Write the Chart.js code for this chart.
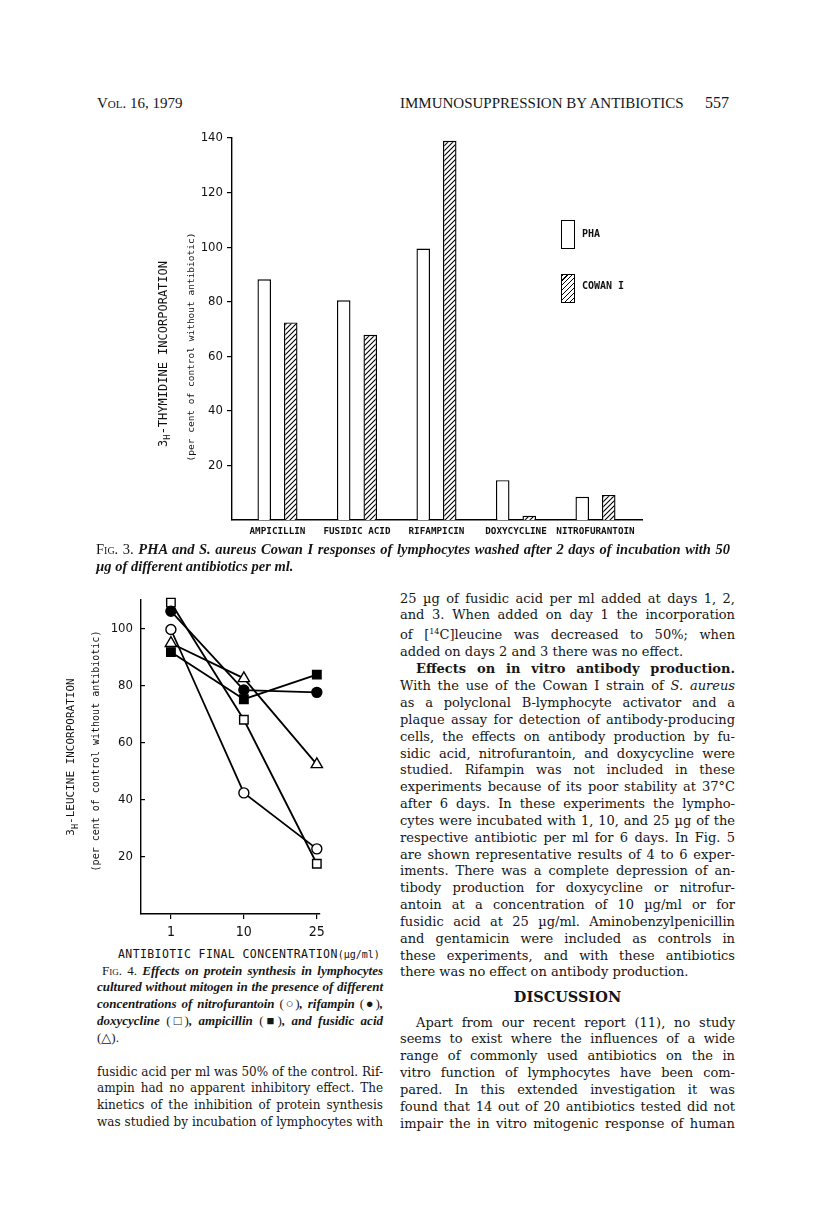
<!DOCTYPE html>
<html>
<head>
<meta charset="utf-8">
<script src="https://cdn.jsdelivr.net/npm/chart.js"></script>
<style>
  body { margin: 0; background: #fff; }
  #page { position: relative; width: 816px; height: 1222px; overflow: hidden; color: #161616; }
  .abs { position: absolute; }
  .serif { font-family: "Liberation Serif", "DejaVu Serif", serif; }
  .body { font-family: "DejaVu Serif", "Liberation Serif", serif; }
  .col div { white-space: nowrap; text-align: justify; text-align-last: justify; }
  .col div.e { text-align-last: left; }
  .rot { position: absolute; transform: translate(-50%, -50%) rotate(-90deg); white-space: nowrap;
         font-family: "DejaVu Sans Mono", monospace; color: #111; }
  .sw { position: absolute; width: 12px; height: 27px; border: 1.3px solid #000; background: #fff; }
  .hatch { background: repeating-linear-gradient(-45deg, #fff 0 2.3px, #000 2.3px 3.5px); }
  .leg { position: absolute; font: bold 10px "DejaVu Sans Mono", monospace; color: #111; }
  .sc { font-variant: small-caps; font-style: normal; font-weight: normal; }
  .cap { font-style: italic; font-weight: bold; }
  .up { font-style: normal; font-weight: normal; }
</style>
</head>
<body>
<div id="page">

  <div class="abs serif" style="left:97px;top:95px;font-size:15px;"><span class="sc">Vol.</span> 16, 1979</div>
  <div class="abs serif" style="left:400px;top:95px;font-size:15px;">IMMUNOSUPPRESSION BY ANTIBIOTICS</div>
  <div class="abs serif" style="left:705px;top:94px;font-size:16px;">557</div>

  <!-- Fig. 3 -->
  <canvas id="fig3" width="500" height="430" style="position:absolute;left:150px;top:120px;"></canvas>
  <div class="rot" style="left:164px;top:354px;font-size:12px;">3<sub style="font-size:9px">H</sub>-THYMIDINE INCORPORATION</div>
  <div class="rot" style="left:190px;top:347px;font-size:9.5px;">(per cent of control without antibiotic)</div>
  <div class="sw" style="left:561px;top:220px;"></div>
  <div class="leg" style="left:582px;top:228px;">PHA</div>
  <div class="sw hatch" style="left:561px;top:274px;"></div>
  <div class="leg" style="left:582px;top:280px;">COWAN I</div>

  <div class="abs serif col" style="left:96px;top:541px;width:634px;font-size:14.5px;line-height:17px;">
    <div><span class="sc">Fig.</span> 3. <span class="cap">PHA and S. aureus Cowan I responses of lymphocytes washed after 2 days of incubation with 50</span></div>
    <div class="e cap">µg of different antibiotics per ml.</div>
  </div>

  <!-- Fig. 4 -->
  <canvas id="fig4" width="280" height="364" style="position:absolute;left:50px;top:580px;"></canvas>
  <div class="rot" style="left:72px;top:757px;font-size:11px;">3<sub style="font-size:8.5px">H</sub>-LEUCINE INCORPORATION</div>
  <div class="rot" style="left:95px;top:751px;font-size:10px;">(per cent of control without antibiotic)</div>
  <div class="abs" style="left:118px;top:947px;font-family:'DejaVu Sans Mono',monospace;font-size:11.5px;letter-spacing:0.4px;color:#111;">ANTIBIOTIC FINAL CONCENTRATION<span style="font-size:10px;letter-spacing:0">(µg/ml)</span></div>

  <div class="abs serif col" style="left:97px;top:962.6px;width:286px;font-size:13px;line-height:16.8px;">
    <div style="padding-left:5px"><span class="sc">Fig.</span> 4. <span class="cap">Effects on protein synthesis in lymphocytes</span></div>
    <div class="cap">cultured without mitogen in the presence of different</div>
    <div class="cap">concentrations of nitrofurantoin <span class="up">(○)</span>, rifampin <span class="up">(●)</span>,</div>
    <div class="cap">doxycycline <span class="up">(□)</span>, ampicillin <span class="up">(■)</span>, and fusidic acid</div>
    <div class="e"><span class="up">(△)</span>.</div>
  </div>

  <div class="abs body col" style="left:97px;top:1063.6px;width:286px;font-size:12px;line-height:16.8px;">
    <div>fusidic acid per ml was 50% of the control. Rif-</div>
    <div>ampin had no apparent inhibitory effect. The</div>
    <div>kinetics of the inhibition of protein synthesis</div>
    <div>was studied by incubation of lymphocytes with</div>
  </div>

  <!-- right column -->
  <div class="abs body col" style="left:400px;top:590.6px;width:335px;font-size:13px;line-height:16.85px;">
    <div>25 µg of fusidic acid per ml added at days 1, 2,</div>
    <div>and 3. When added on day 1 the incorporation</div>
    <div>of [<sup style="font-size:8px">14</sup>C]leucine was decreased to 50%; when</div>
    <div class="e">added on days 2 and 3 there was no effect.</div>
    <div style="padding-left:16px;font-weight:bold;">Effects on in vitro antibody production.</div>
    <div>With the use of the Cowan I strain of <i>S. aureus</i></div>
    <div>as a polyclonal B-lymphocyte activator and a</div>
    <div>plaque assay for detection of antibody-producing</div>
    <div>cells, the effects on antibody production by fu-</div>
    <div>sidic acid, nitrofurantoin, and doxycycline were</div>
    <div>studied. Rifampin was not included in these</div>
    <div>experiments because of its poor stability at 37°C</div>
    <div>after 6 days. In these experiments the lympho-</div>
    <div>cytes were incubated with 1, 10, and 25 µg of the</div>
    <div>respective antibiotic per ml for 6 days. In Fig. 5</div>
    <div>are shown representative results of 4 to 6 exper-</div>
    <div>iments. There was a complete depression of an-</div>
    <div>tibody production for doxycycline or nitrofur-</div>
    <div>antoin at a concentration of 10 µg/ml or for</div>
    <div>fusidic acid at 25 µg/ml. Aminobenzylpenicillin</div>
    <div>and gentamicin were included as controls in</div>
    <div>these experiments, and with these antibiotics</div>
    <div class="e">there was no effect on antibody production.</div>
  </div>
  <div class="abs body" style="left:400px;top:988px;width:335px;text-align:center;font-size:14.5px;font-weight:bold;">DISCUSSION</div>
  <div class="abs body col" style="left:400px;top:1014.6px;width:335px;font-size:13px;line-height:16.85px;">
    <div style="padding-left:16px">Apart from our recent report (11), no study</div>
    <div>seems to exist where the influences of a wide</div>
    <div>range of commonly used antibiotics on the in</div>
    <div>vitro function of lymphocytes have been com-</div>
    <div>pared. In this extended investigation it was</div>
    <div>found that 14 out of 20 antibiotics tested did not</div>
    <div>impair the in vitro mitogenic response of human</div>
  </div>
</div>

<script>
// Fig. 3 - 3H-thymidine incorporation after 2 days with 50 ug antibiotic/ml
const antibiotics = ["AMPICILLIN", "FUSIDIC ACID", "RIFAMPICIN", "DOXYCYCLINE", "NITROFURANTOIN"];
const phaResponse = [88.2, 80.5, 99.5, 14.6, 8.5];
const cowanResponse = [72.4, 67.9, 139, 1.6, 9.2];
const thymidineTicks = [20, 40, 60, 80, 100, 120, 140];

// Fig. 4 - 3H-leucine incorporation vs. antibiotic concentration
const concentrations = ["1", "10", "25"];
const nitrofurantoin = [99.6, 42.4, 22.8];
const rifampin = [106, 78.4, 77.6];
const doxycycline = [109, 68, 17.6];
const ampicillin = [91.7, 75.2, 83.8];
const fusidicAcid = [94.8, 82.5, 52.4];
const leucineTicks = [20, 40, 60, 80, 100];

const tickFont = { family: "'DejaVu Sans Condensed', 'Liberation Sans Narrow', 'DejaVu Sans'", size: 13 };

function hatchPattern() {
    const c = document.createElement("canvas");
    c.width = 5; c.height = 5;
    const g = c.getContext("2d");
    g.fillStyle = "#fff";
    g.fillRect(0, 0, 5, 5);
    g.strokeStyle = "#000";
    g.lineWidth = 1.1;
    g.beginPath();
    g.moveTo(0, 5); g.lineTo(5, 0);
    g.moveTo(-1, 1); g.lineTo(1, -1);
    g.moveTo(4, 6); g.lineTo(6, 4);
    g.stroke();
    return g.createPattern(c, "repeat");
}

const points = vals => vals.map((v, i) => ({ x: i, y: v }));

new Chart(document.getElementById("fig3"), {
    type: "bar",
    data: {
        datasets: [{
            label: "PHA",
            data: points(phaResponse),
            backgroundColor: "#fff",
            borderColor: "#000",
            borderWidth: 1.4
        }, {
            label: "COWAN I",
            data: points(cowanResponse),
            backgroundColor: hatchPattern(),
            borderColor: "#000",
            borderWidth: 1.4
        }]
    },
    options: {
        responsive: false,
        animation: false,
        devicePixelRatio: 1,
        categoryPercentage: 0.667,
        barPercentage: 0.51,
        layout: { padding: { top: 18, right: 8, left: 0, bottom: 0 } },
        plugins: { legend: { display: false }, tooltip: { enabled: false } },
        scales: {
            x: {
                type: "linear",
                min: -0.572,
                max: 4.585,
                offset: false,
                grid: { display: false, drawTicks: false },
                border: { color: "#000", width: 1.4 },
                afterBuildTicks: s => { s.ticks = antibiotics.map((a, i) => ({ value: i })); },
                afterFit: s => { s.height = 30; },
                ticks: {
                    autoSkip: false,
                    maxRotation: 0,
                    padding: 6,
                    color: "#111",
                    font: { family: "'DejaVu Sans Mono'", size: 9.3, weight: "bold" },
                    callback: v => antibiotics[v]
                }
            },
            y: {
                min: 0,
                max: 140,
                afterBuildTicks: s => { s.ticks = thymidineTicks.map(v => ({ value: v })); },
                afterFit: s => { s.width = 82; },
                grid: { drawOnChartArea: false, tickLength: 5, color: "#000", lineWidth: 1.2 },
                border: { color: "#000", width: 1.4 },
                ticks: { padding: 4, color: "#111", font: tickFont }
            }
        }
    }
});

const series = [
    { label: "nitrofurantoin", data: nitrofurantoin, style: "circle", radius: 5, fill: "#fff" },
    { label: "rifampin", data: rifampin, style: "circle", radius: 5, fill: "#000" },
    { label: "doxycycline", data: doxycycline, style: "rect", radius: 6, fill: "#fff" },
    { label: "ampicillin", data: ampicillin, style: "rect", radius: 6, fill: "#000" },
    { label: "fusidic acid", data: fusidicAcid, style: "triangle", radius: 6.5, fill: "#fff" }
];

new Chart(document.getElementById("fig4"), {
    type: "line",
    data: {
        datasets: series.map(s => ({
            label: s.label,
            data: points(s.data),
            borderColor: "#000",
            borderWidth: 1.8,
            tension: 0,
            clip: false,
            pointStyle: s.style,
            pointRadius: s.radius,
            pointBackgroundColor: s.fill,
            pointBorderColor: "#000",
            pointBorderWidth: 1.4
        }))
    },
    options: {
        responsive: false,
        animation: false,
        devicePixelRatio: 1,
        layout: { padding: { top: 16, right: 10, left: 0, bottom: 0 } },
        plugins: { legend: { display: false }, tooltip: { enabled: false } },
        scales: {
            x: {
                type: "linear",
                min: -0.41,
                max: 2.04,
                afterBuildTicks: s => { s.ticks = concentrations.map((c, i) => ({ value: i })); },
                afterFit: s => { s.height = 30; },
                grid: { drawOnChartArea: false, tickLength: 5, color: "#000", lineWidth: 1.2 },
                border: { color: "#000", width: 1.4 },
                ticks: { padding: 5, color: "#111", font: { ...tickFont, size: 14 }, callback: v => concentrations[v] }
            },
            y: {
                min: 0,
                max: 110,
                afterBuildTicks: s => { s.ticks = leucineTicks.map(v => ({ value: v })); },
                afterFit: s => { s.width = 91; },
                grid: { drawOnChartArea: false, tickLength: -4, color: "#000", lineWidth: 1.2 },
                border: { color: "#000", width: 1.4 },
                ticks: { padding: 12, color: "#111", font: tickFont }
            }
        }
    }
});

// squeeze justified lines that are too long for their column
document.querySelectorAll(".col div").forEach(d => {
    let ls = 0;
    while (d.scrollWidth > d.clientWidth + 0.5 && ls > -1.5) {
        ls -= 0.1;
        d.style.letterSpacing = ls + "px";
    }
});
</script>
</body>
</html>
